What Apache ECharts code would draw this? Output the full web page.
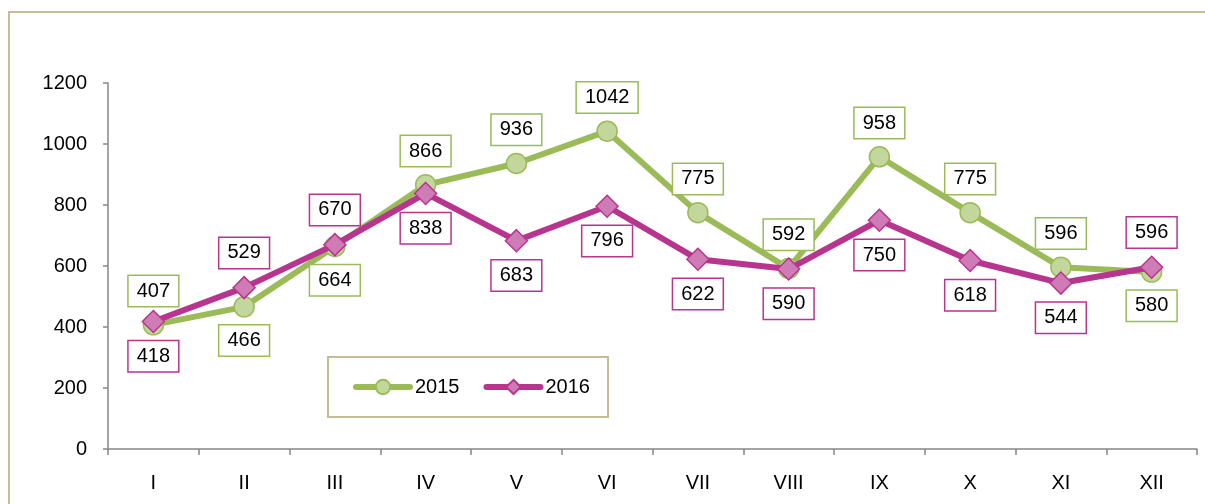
<!DOCTYPE html>
<html>
<head>
<meta charset="utf-8">
<script src="https://cdn.jsdelivr.net/npm/echarts@6/dist/echarts.min.js"></script>
<style>
html,body{margin:0;padding:0;background:#fff;}
#chart{width:1205px;height:504px;}
</style>
</head>
<body>
<div id="chart"></div>
<script>
const categories = ['I','II','III','IV','V','VI','VII','VIII','IX','X','XI','XII'];
const values2015 = [407, 466, 664, 866, 936, 1042, 775, 592, 958, 775, 596, 580];
const values2016 = [418, 529, 670, 838, 683, 796, 622, 590, 750, 618, 544, 596];
const side2015 = ['top','bottom','bottom','top','top','top','top','top','top','top','top','bottom'];
const side2016 = ['bottom','top','top','bottom','bottom','bottom','bottom','bottom','bottom','bottom','bottom','top'];

const GREEN = '#9bbb59';
const GREEN_FILL = '#c3d69b';
const PINK = '#b8358f';
const PINK_FILL = '#cf7bb5';
const FONT = '"Liberation Sans", Arial, sans-serif';

function labelStyle(color){
  return {
    show: true,
    color: '#000',
    fontFamily: FONT,
    fontSize: 20,
    lineHeight: 22,
    backgroundColor: '#fff',
    borderColor: color,
    borderWidth: 1.5,
    padding: [4, 8, 4, 8],
    distance: 8
  };
}
function mkData(vals, sides){
  return vals.map((v,i)=>({value:v, label:{position:sides[i]}}));
}

const chart = echarts.init(document.getElementById('chart'), null, {renderer:'canvas'});
chart.setOption({
  animation: false,
  backgroundColor: '#fff',
  graphic: [{
    type: 'rect',
    shape: {x: 9, y: 12, width: 1210, height: 510},
    style: {fill: 'none', stroke: '#c4bd97', lineWidth: 2},
    silent: true, z: -10
  }],
  grid: {left: 108, right: 8, top: 83, bottom: 55},
  legend: {
    left: 328, top: 357,
    padding: [20, 18, 20, 25],
    borderColor: '#c4bd97',
    borderWidth: 2,
    backgroundColor: '#fff',
    itemWidth: 54,
    itemHeight: 18,
    itemGap: 24,
    lineStyle: {width: 6, cap: 'round'},
    textStyle: {fontFamily: FONT, fontSize: 20, color: '#000', padding:[0,0,0,0]},
    data: ['2015','2016']
  },
  xAxis: {
    type: 'category',
    data: categories,
    boundaryGap: true,
    axisLine: {lineStyle: {color: '#868686', width: 1.5}},
    axisTick: {show: true, length: 6, lineStyle: {color: '#868686', width: 1.5}},
    axisLabel: {color: '#000', fontFamily: FONT, fontSize: 20, margin: 24}
  },
  yAxis: {
    type: 'value',
    min: 0, max: 1200, interval: 200,
    axisLine: {show: true, lineStyle: {color: '#868686', width: 1.5}},
    axisTick: {show: true, length: 5, lineStyle: {color: '#868686', width: 1.5}},
    axisLabel: {color: '#000', fontFamily: FONT, fontSize: 20, margin: 21, formatter: v => String(v)},
    splitLine: {show: false}
  },
  series: [
    {
      name: '2015', type: 'line', z: 2,
      data: mkData(values2015, side2015),
      symbol: 'circle', symbolSize: 20,
      lineStyle: {color: GREEN, width: 6},
      itemStyle: {color: GREEN_FILL, borderColor: GREEN, borderWidth: 1.5},
      label: labelStyle(GREEN)
    },
    {
      name: '2016', type: 'line', z: 3,
      data: mkData(values2016, side2016),
      symbol: 'diamond', symbolSize: 22,
      lineStyle: {color: PINK, width: 6},
      itemStyle: {color: PINK_FILL, borderColor: PINK, borderWidth: 1.5},
      label: labelStyle(PINK)
    }
  ]
});
</script>
</body>
</html>
